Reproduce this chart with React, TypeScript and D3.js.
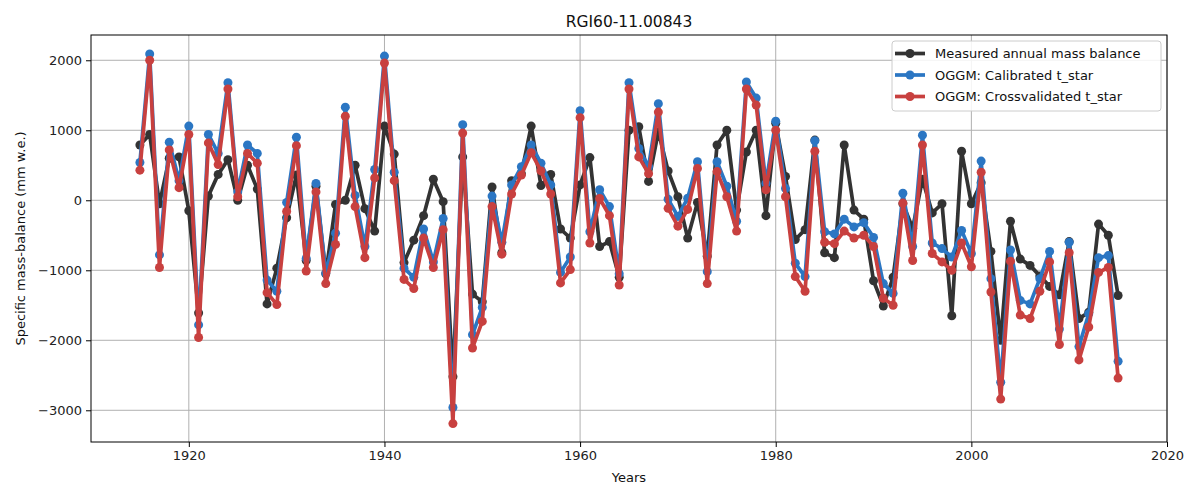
import React, { useEffect, useRef } from "react";
import * as d3 from "d3";

const firstYear = 1915;
const lastYear = 2015;
const years = d3.range(firstYear, lastYear + 1);

// mm w.e., 1915..2015
const measured = [
  790, 940, -50, 600, 620, -150, -1610, 60, 370, 580,
  0, 500, 160, -1480, -970, -250, 360, -860, 200, -1050,
  -60, 0, 500, -120, -440, 1060, 660, -890, -570, -220,
  300, -20, -2520, 620, -1340, -1450, 190, -750, 280, 380,
  1060, 210, 370, -410, -540, 220, 610, -660, -590, -1100,
  1000, 1050, 270, 980, 420, 50, -540, -30, -800, 790,
  1000, -140, 690, 1000, -220, 1100, 340, -560, -420, 860,
  -750, -820, 790, -140, -270, -1150, -1510, -1100, -50, -400,
  300, -180, -50, -1650, 700, -50, 250, -730, -2000, -300,
  -840, -930, -1080, -1230, -1350, -590, -1690, -1600, -340, -500,
  -1360,
];

const calibrated = [
  540, 2090, -780, 830, 280, 1060, -1780, 940, 670, 1680,
  120, 790, 670, -1140, -1300, -30, 900, -830, 240, -1040,
  -470, 1330, 70, -660, 440, 2060, 400, -970, -1100, -410,
  -880, -260, -2960, 1080, -1920, -1530, 60, -600, 220, 480,
  790, 530, 220, -1030, -810, 1280, -450, 150, -90, -1050,
  1680, 740, 480, 1380, 15, -230, 30, 550, -1020, 550,
  200, -300, 1690, 1460, 240, 1130, 170, -900, -1090, 850,
  -450, -480, -270, -380, -320, -530, -1190, -1330, 100, -660,
  930, -610, -690, -810, -430, -760, 560, -1120, -2600, -710,
  -1430, -1480, -1120, -730, -1840, -600, -2090, -1620, -820, -790,
  -2300,
];

const crossvalidated = [
  430, 2000, -960, 720, 180, 940, -1960, 820, 510, 1590,
  50, 670, 530, -1320, -1490, -160, 780, -1010, 120, -1190,
  -630, 1200, -90, -820, 320, 1960, 280, -1130, -1260, -540,
  -960, -420, -3190, 960, -2110, -1730, -90, -770, 90, 360,
  680, 420, 90, -1180, -990, 1180, -610, 25, -220, -1210,
  1590, 620, 380, 1260, -115, -370, -130, 455, -1190, 410,
  50, -440, 1590, 1360, 150, 1000, 50, -1090, -1300, 700,
  -600, -620, -440, -540, -500, -660, -1400, -1500, -40, -860,
  790, -760, -880, -1000, -610, -950, 400, -1310, -2840, -870,
  -1640, -1690, -1300, -880, -2060, -750, -2280, -1810, -1030, -960,
  -2540,
];

const seriesNames = [
  "Measured annual mass balance",
  "OGGM: Calibrated t_star",
  "OGGM: Crossvalidated t_star",
];
const seriesColors = ["#333333", "#2b76c3", "#c8403f"];

const xTicks = [1920, 1940, 1960, 1980, 2000, 2020];
const yTicks = [2000, 1000, 0, -1000, -2000, -3000];

const W = 1200;
const H = 500;
const margin = { left: 91, right: 33, top: 35, bottom: 58 };
const font = "DejaVu Sans, sans-serif";

export default function App() {
  const ref = useRef<SVGSVGElement>(null);

  useEffect(() => {
    if (!ref.current) return;
    const svg = d3.select(ref.current);
    svg.selectAll("*").remove();

    const x = d3
      .scaleLinear()
      .domain([1910, 2020])
      .range([margin.left, W - margin.right]);
    const y = d3
      .scaleLinear()
      .domain([-3453, 2361])
      .range([H - margin.bottom, margin.top]);

    svg.append("rect").attr("width", W).attr("height", H).attr("fill", "#fff");

    // grid
    const grid = svg.append("g").attr("stroke", "#b0b0b0").attr("stroke-width", 1);
    xTicks.forEach((t) => {
      grid.append("line")
        .attr("x1", x(t)).attr("x2", x(t))
        .attr("y1", margin.top).attr("y2", H - margin.bottom);
    });
    yTicks.forEach((t) => {
      grid.append("line")
        .attr("x1", margin.left).attr("x2", W - margin.right)
        .attr("y1", y(t)).attr("y2", y(t));
    });

    // series
    const all = [measured, calibrated, crossvalidated];
    const line = d3
      .line<number>()
      .x((_, i) => x(years[i]))
      .y((d) => y(d));

    all.forEach((vals, k) => {
      const g = svg.append("g");
      g.append("path")
        .attr("d", line(vals))
        .attr("fill", "none")
        .attr("stroke", seriesColors[k])
        .attr("stroke-width", 3.7)
        .attr("stroke-linejoin", "round");
      g.selectAll("circle")
        .data(vals)
        .enter()
        .append("circle")
        .attr("cx", (_, i) => x(years[i]))
        .attr("cy", (d) => y(d))
        .attr("r", 4.5)
        .attr("fill", seriesColors[k]);
    });

    // frame
    svg.append("rect")
      .attr("x", margin.left).attr("y", margin.top)
      .attr("width", W - margin.left - margin.right)
      .attr("height", H - margin.top - margin.bottom)
      .attr("fill", "none").attr("stroke", "#000").attr("stroke-width", 1);

    // axes
    const xAxis = svg.append("g")
      .attr("transform", `translate(0,${H - margin.bottom})`)
      .call(d3.axisBottom(x).tickValues(xTicks).tickSize(5).tickPadding(4).tickFormat(d3.format("d")));
    const yAxis = svg.append("g")
      .attr("transform", `translate(${margin.left},0)`)
      .call(
        d3.axisLeft(y).tickValues(yTicks).tickSize(5).tickPadding(4)
          .tickFormat((d) => String(d).replace("-", "\u2212"))
      );
    [xAxis, yAxis].forEach((a) => {
      a.select(".domain").remove();
      a.selectAll("text").attr("font-family", font).attr("font-size", 13).attr("fill", "#222");
      a.selectAll("line").attr("stroke", "#000");
    });

    svg.append("text")
      .attr("x", (margin.left + W - margin.right) / 2).attr("y", 27)
      .attr("text-anchor", "middle").attr("font-family", font).attr("font-size", 15.5)
      .attr("fill", "#111")
      .text("RGI60-11.00843");
    svg.append("text")
      .attr("x", (margin.left + W - margin.right) / 2).attr("y", 482)
      .attr("text-anchor", "middle").attr("font-family", font).attr("font-size", 13)
      .attr("fill", "#111")
      .text("Years");
    svg.append("text")
      .attr("transform", `translate(25,${(margin.top + H - margin.bottom) / 2}) rotate(-90)`)
      .attr("text-anchor", "middle").attr("font-family", font).attr("font-size", 13)
      .attr("fill", "#111")
      .text("Specific mass-balance (mm w.e.)");

    // legend
    const lg = svg.append("g").attr("transform", "translate(892,41)");
    lg.append("rect")
      .attr("width", 269).attr("height", 70).attr("rx", 3)
      .attr("fill", "#fff").attr("fill-opacity", 0.85)
      .attr("stroke", "#cccccc");
    seriesNames.forEach((name, k) => {
      const cy = 12.5 + k * 21.5;
      lg.append("line")
        .attr("x1", 3).attr("x2", 33).attr("y1", cy).attr("y2", cy)
        .attr("stroke", seriesColors[k]).attr("stroke-width", 3.7);
      lg.append("circle").attr("cx", 18).attr("cy", cy).attr("r", 4.5).attr("fill", seriesColors[k]);
      lg.append("text")
        .attr("x", 43).attr("y", cy + 4.5)
        .attr("font-family", font).attr("font-size", 13).attr("fill", "#111")
        .text(name);
    });
  }, []);

  return (
    <svg
      ref={ref}
      width={W}
      height={H}
      style={{ position: "absolute", left: 0, top: 0 }}
    />
  );
}
